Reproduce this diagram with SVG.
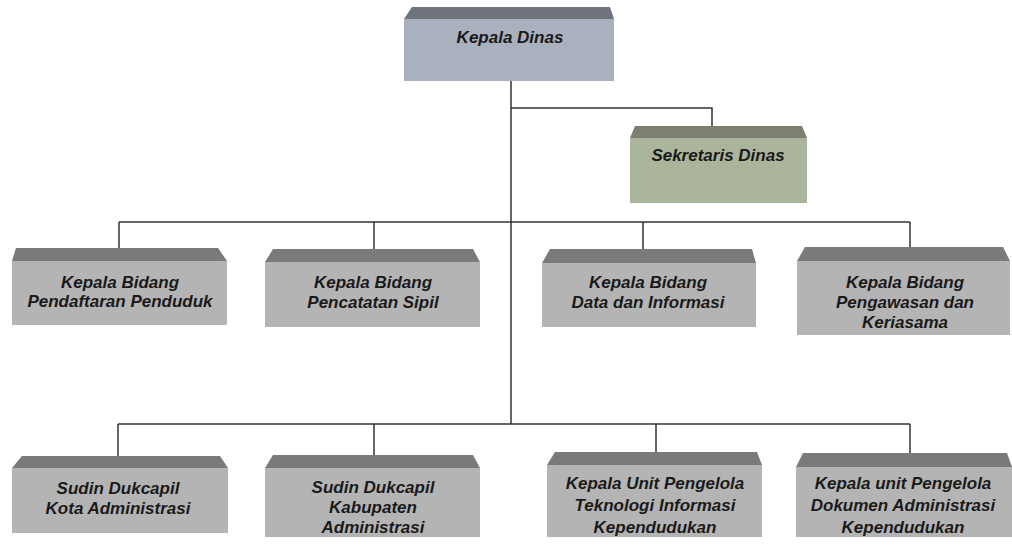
<svg xmlns="http://www.w3.org/2000/svg" width="1012" height="547" viewBox="0 0 1012 547">
<style>
.face{fill:#b4b4b4}
.top{fill:#7a7a7a}
.t{font-family:"Liberation Sans",Arial,sans-serif;font-weight:bold;font-style:italic;font-size:17px;fill:#1a1a1a;text-anchor:middle}
.ln{stroke:#333;stroke-width:1.5;fill:none}
</style>
<rect width="1012" height="547" fill="#fff"/>
<g id="connectors">
<path class="ln" d="M511 81V424"/>
<path class="ln" d="M511 108H712V126"/>
<path class="ln" d="M119 222H910M119 222V248M374 222V249M643 222V249M910 222V247"/>
<path class="ln" d="M118 424H910M118 424V456M374 424V455M656 424V452M910 424V453"/>
</g>
<g id="kepala-dinas">
<polygon points="412,7 610,7 614,19 404,19" fill="#6e737c"/>
<rect x="404" y="19" width="210" height="62" fill="#a8b1bd"/>
<text class="t" x="510" y="43">Kepala Dinas</text>
</g>
<g id="sekretaris-dinas">
<polygon points="635,126 802,126 807,138 630,138" fill="#7c8070"/>
<rect x="630" y="138" width="177" height="65" fill="#abb59c"/>
<text class="t" x="718" y="161">Sekretaris Dinas</text>
</g>
<g id="kabid-pendaftaran">
<polygon class="top" points="16,248 218,248 227,261 12,261"/>
<rect class="face" x="12" y="261" width="215" height="64"/>
<text class="t" x="120" y="288">Kepala Bidang</text>
<text class="t" x="120" y="307">Pendaftaran Penduduk</text>
</g>
<g id="kabid-pencatatan">
<polygon class="top" points="273,249 473,249 480,262 265,262"/>
<rect class="face" x="265" y="262" width="215" height="65"/>
<text class="t" x="373" y="288">Kepala Bidang</text>
<text class="t" x="373" y="308">Pencatatan Sipil</text>
</g>
<g id="kabid-data">
<polygon class="top" points="550,249 752,249 756,263 542,263"/>
<rect class="face" x="542" y="263" width="214" height="64"/>
<text class="t" x="648" y="288">Kepala Bidang</text>
<text class="t" x="648" y="308">Data dan Informasi</text>
</g>
<g id="kabid-pengawasan">
<polygon class="top" points="805,247 1003,247 1010,261 797,261"/>
<rect class="face" x="797" y="261" width="213" height="74"/>
<text class="t" x="905" y="288">Kepala Bidang</text>
<text class="t" x="905" y="308">Pengawasan dan</text>
<text class="t" x="905" y="328">Keriasama</text>
</g>
<g id="sudin-kota">
<polygon class="top" points="22,456 220,456 228,468 12,468"/>
<rect class="face" x="12" y="468" width="216" height="65"/>
<text class="t" x="118" y="494">Sudin Dukcapil</text>
<text class="t" x="118" y="514">Kota Administrasi</text>
</g>
<g id="sudin-kabupaten">
<polygon class="top" points="273,455 473,455 480,468 265,468"/>
<rect class="face" x="265" y="468" width="215" height="69"/>
<text class="t" x="373" y="493">Sudin Dukcapil</text>
<text class="t" x="373" y="513">Kabupaten</text>
<text class="t" x="373" y="533">Administrasi</text>
</g>
<g id="kupt-ti">
<polygon class="top" points="555,452 757,452 762,465 547,465"/>
<rect class="face" x="547" y="465" width="215" height="72"/>
<text class="t" x="655" y="489">Kepala Unit Pengelola</text>
<text class="t" x="655" y="511">Teknologi Informasi</text>
<text class="t" x="655" y="533">Kependudukan</text>
</g>
<g id="kupt-dokumen">
<polygon class="top" points="803,453 1007,453 1012,467 796,467"/>
<rect class="face" x="796" y="467" width="216" height="70"/>
<text class="t" x="903" y="489">Kepala unit Pengelola</text>
<text class="t" x="903" y="511">Dokumen Administrasi</text>
<text class="t" x="903" y="533">Kependudukan</text>
</g>
</svg>
